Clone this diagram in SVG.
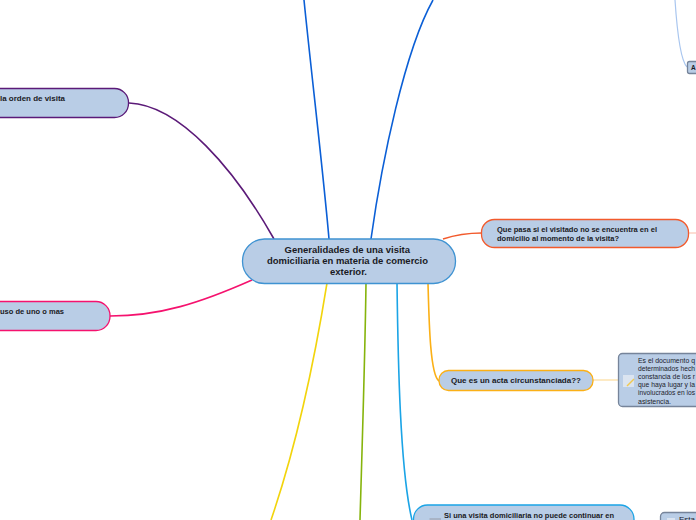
<svg xmlns="http://www.w3.org/2000/svg" width="696" height="520" viewBox="0 0 696 520">
<style>
text{font-family:"Liberation Sans",Arial,sans-serif;font-weight:bold;fill:#1a1a24}
.c{fill:none;stroke-width:1.6}
.n{fill:#b9cde6;stroke-width:1.3}
.s{font-size:7.800px}
.d{font-size:7.600px;font-weight:normal;fill:#22222c}
</style>
<rect width="696" height="520" fill="#fff"/>
<g id="connectors">
<path class="c" stroke="#0b5fd6" d="M329 239C323 170 311 70 304 0"/>
<path class="c" stroke="#0b5fd6" d="M371 239C382 160 405 50 433 0"/>
<path class="c" stroke="#5b1a78" d="M274 239C235 170 180 105 129 103"/>
<path class="c" stroke="#f5126e" d="M252 280C200 303 160 316 110 316"/>
<path class="c" stroke="#f25a2c" d="M443 239C455 235 468 233 482 233"/>
<path class="c" stroke="#f2d40c" d="M327 283C313 370 295 450 271 520"/>
<path class="c" stroke="#86b40c" d="M366 283C365 360 362 450 360 520"/>
<path class="c" stroke="#1ba4e6" d="M397 283C398 360 400 470 412 520"/>
<path class="c" stroke="#fbb016" d="M428 283C429 320 430 375 439 381"/>
<path fill="none" stroke="#fde5b5" stroke-width="1.600" d="M593 380H618"/>
<path fill="none" stroke="#fcd5c8" stroke-width="1.600" d="M689 233H696"/>
<path fill="none" stroke="#a9c6ef" stroke-width="1.200" d="M675 0C677 30 680 60 687 67"/>
</g>
<g id="node-orden">
<rect class="n" stroke="#5b1a78" x="-30" y="88.500" width="158.500" height="29" rx="14"/>
<text class="s" x="0" y="101" textLength="65" lengthAdjust="spacingAndGlyphs">la orden de visita</text>
</g>
<g id="node-uso">
<rect class="n" stroke="#f5126e" x="-30" y="301.500" width="140" height="29" rx="14"/>
<text class="s" x="0" y="314" textLength="64" lengthAdjust="spacingAndGlyphs">uso de uno o mas</text>
</g>
<g id="node-central">
<rect fill="#b9cde6" stroke="#3f93d2" stroke-width="1.300" x="242.500" y="239" width="213" height="44.500" rx="22"/>
<text font-size="9.600" x="284.500" y="253" textLength="125.500" lengthAdjust="spacingAndGlyphs">Generalidades de una visita</text>
<text font-size="9.600" x="267" y="264" textLength="161" lengthAdjust="spacingAndGlyphs">domiciliaria en materia de comercio</text>
<text font-size="9.600" x="330" y="275" textLength="37" lengthAdjust="spacingAndGlyphs">exterior.</text>
</g>
<g id="node-visitado">
<rect class="n" stroke="#f25a2c" x="481.500" y="219.500" width="207" height="28" rx="13"/>
<text class="s" x="497" y="232" textLength="160" lengthAdjust="spacingAndGlyphs">Que pasa si el visitado no se encuentra en el</text>
<text class="s" x="497" y="241" textLength="122" lengthAdjust="spacingAndGlyphs">domicilio al momento de la visita?</text>
</g>
<g id="node-acta">
<rect class="n" stroke="#fbb016" x="439" y="370.500" width="154" height="20" rx="9.500"/>
<text class="s" x="451" y="383" textLength="130" lengthAdjust="spacingAndGlyphs">Que es un acta circunstanciada??</text>
</g>
<g id="node-acta-desc">
<rect class="n" stroke="#76849a" x="618.500" y="353.500" width="90" height="53" rx="4"/>
<rect x="623" y="375" width="11" height="12" fill="#dbe4f0"/>
<path d="M627 386L634 379" stroke="#f0c850" stroke-width="1.500"/>
<text class="d" x="638" y="362.500" textLength="57" lengthAdjust="spacingAndGlyphs">Es el documento q</text>
<text class="d" x="638" y="370.700" textLength="57" lengthAdjust="spacingAndGlyphs">determinados hech</text>
<text class="d" x="638" y="378.900" textLength="57" lengthAdjust="spacingAndGlyphs">constancia de los r</text>
<text class="d" x="638" y="387.100" textLength="57" lengthAdjust="spacingAndGlyphs">que haya lugar y la</text>
<text class="d" x="638" y="395.300" textLength="57" lengthAdjust="spacingAndGlyphs">involucrados en los</text>
<text class="d" x="638" y="403.500" textLength="33" lengthAdjust="spacingAndGlyphs">asistencia.</text>
</g>
<g id="node-continuar">
<rect class="n" stroke="#1ba4e6" x="413.500" y="505" width="220.500" height="40" rx="14"/>
<rect x="429.500" y="518" width="11.500" height="8" fill="#a8b4c6"/>
<text class="s" x="444" y="518" textLength="170" lengthAdjust="spacingAndGlyphs">Si una visita domiciliaria no puede continuar en</text>
</g>
<g id="node-esta">
<rect class="n" stroke="#76849a" x="660.500" y="512.500" width="50" height="20" rx="4"/>
<rect x="667" y="518" width="8" height="6" fill="#dbe4f0"/>
<text class="d" x="679" y="522" textLength="16" lengthAdjust="spacingAndGlyphs">Esta</text>
</g>
<g id="node-a">
<rect class="n" stroke="#76849a" x="687.500" y="61.500" width="14" height="12" rx="2"/>
<text font-size="6.500" x="691" y="69.500">A</text>
</g>
</svg>
